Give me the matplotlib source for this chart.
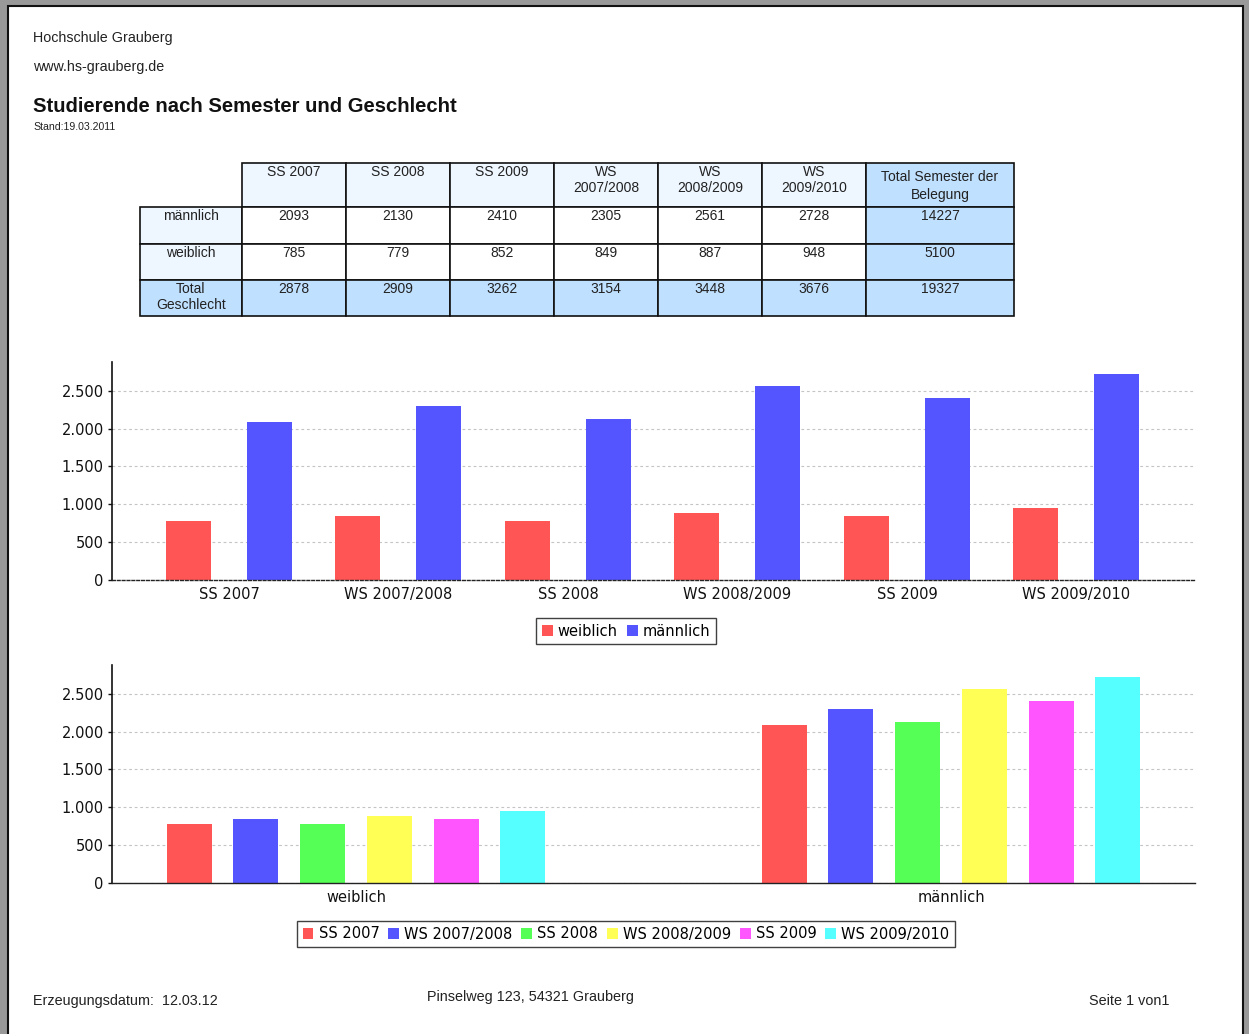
import matplotlib
matplotlib.use("Agg")
import matplotlib.pyplot as plt
from matplotlib.patches import Rectangle
from matplotlib.ticker import FuncFormatter
import numpy as np

# data
semester = ['SS 2007', 'SS 2008', 'SS 2009', 'WS 2007/2008', 'WS 2008/2009', 'WS 2009/2010']
maennlich = [2093, 2130, 2410, 2305, 2561, 2728]
weiblich = [785, 779, 852, 849, 887, 948]
chart_order = ['SS 2007', 'WS 2007/2008', 'SS 2008', 'WS 2008/2009', 'SS 2009', 'WS 2009/2010']
geschlecht = ['weiblich', 'männlich']
farben = ['#ff5555', '#5555ff', '#55ff55', '#ffff55', '#ff55ff', '#55ffff']

W, H = 1249, 1034
fig = plt.figure(figsize=(W / 100, H / 100), dpi=100)
fig.patch.set_facecolor('#999999')

def fx(x):
    return x / W

def fy(y):
    return 1 - y / H

REPORT_FONT = ['Liberation Sans', 'DejaVu Sans']
CHART_FONT = ['DejaVu Sans']

def ftext(x, y, s, **kw):
    kw.setdefault('family', REPORT_FONT)
    kw.setdefault('color', '#222222')
    fig.text(fx(x), fy(y), s, **kw)

def frect(x0, y0, x1, y1, **kw):
    r = Rectangle((fx(x0), fy(y1)), fx(x1) - fx(x0), fy(y0) - fy(y1),
                  transform=fig.transFigure, **kw)
    fig.add_artist(r)

# page
frect(8, 6, 1243, 1040, facecolor='white', edgecolor='#111111', lw=1.5, zorder=0)

# header
ftext(33, 38, 'Hochschule Grauberg', fontsize=10.3, va='center')
ftext(33, 67, 'www.hs-grauberg.de', fontsize=10.3, va='center')
ftext(33, 106, 'Studierende nach Semester und Geschlecht', fontsize=14.6, fontweight='bold',
      va='center', color='#111111')
ftext(33, 127, 'Stand:19.03.2011', fontsize=7.6, va='center')

# table
col_x = [140, 242, 346, 450, 554, 658, 762, 866, 1014]
row_y = [163, 207, 244, 280, 316]
light = '#eef6ff'
blue = '#c0e0ff'
header = ['SS 2007', 'SS 2008', 'SS 2009', 'WS\n2007/2008', 'WS\n2008/2009', 'WS\n2009/2010']
rows = [('männlich', maennlich), ('weiblich', weiblich)]
totals = [m + w for m, w in zip(maennlich, weiblich)]

def cell(ci, ri, txt, fc, center=False):
    x0, x1 = col_x[ci], col_x[ci + 1]
    y0, y1 = row_y[ri], row_y[ri + 1]
    frect(x0, y0, x1, y1, facecolor=fc, edgecolor='#111111', lw=1.2, zorder=1)
    if center:
        ftext((x0 + x1) / 2, (y0 + y1) / 2 + 1, txt, fontsize=10, ha='center', va='center',
              linespacing=1.35, zorder=2)
    else:
        ftext((x0 + x1) / 2, y0 + 2, txt, fontsize=10, ha='center', va='top',
              linespacing=1.2, zorder=2)

for i, h in enumerate(header):
    cell(i + 1, 0, h, light)
cell(7, 0, 'Total Semester der\nBelegung', blue, center=True)
for r, (name, vals) in enumerate(rows):
    cell(0, r + 1, name, light)
    for i, v in enumerate(vals):
        cell(i + 1, r + 1, str(v), 'white')
    cell(7, r + 1, str(sum(vals)), blue)
cell(0, 3, 'Total\nGeschlecht', blue)
for i, v in enumerate(totals):
    cell(i + 1, 3, str(v), blue)
cell(7, 3, str(sum(totals)), blue)

# charts
fmt = FuncFormatter(lambda v, p: f'{int(v):,}'.replace(',', '.'))

def style_axes(ax, dashed_base):
    ax.set_ylim(0, 2880)
    ax.set_yticks(np.arange(0, 2501, 500))
    ax.yaxis.set_major_formatter(fmt)
    ax.yaxis.grid(True, color='#c4c4c4', lw=0.8, linestyle=(0, (2.5, 2.5)))
    ax.set_axisbelow(True)
    for s in ['top', 'right']:
        ax.spines[s].set_visible(False)
    ax.spines['left'].set_color('#111111')
    ax.spines['left'].set_linewidth(1.2)
    ax.spines['bottom'].set_color('#222222')
    ax.spines['bottom'].set_linewidth(1.0)
    if dashed_base:
        ax.spines['bottom'].set_linestyle((0, (2, 1.5)))
    ax.tick_params(axis='y', length=3, width=1, labelsize=10.5, colors='#111111', pad=3)
    ax.tick_params(axis='x', length=0, labelsize=10.5, colors='#111111', pad=5)
    for lab in ax.get_xticklabels() + ax.get_yticklabels():
        lab.set_family(CHART_FONT)

ax1 = fig.add_axes([fx(112), fy(580), fx(1195) - fx(112), fy(362) - fy(580)])
idx = [semester.index(s) for s in chart_order]
x = np.arange(len(chart_order))
bw = 45 / 169.5
off = 40.5 / 169.5
b1 = ax1.bar(x - off, [weiblich[i] for i in idx], bw, color=farben[0], label='weiblich')
b2 = ax1.bar(x + off, [maennlich[i] for i in idx], bw, color=farben[1], label='männlich')
ax1.set_xticks(x)
ax1.set_xticklabels(chart_order)
ax1.set_xlim(-0.69, 5.70)
style_axes(ax1, True)

leg_kw = dict(loc='center', frameon=True, fancybox=False, handlelength=0.75, handleheight=0.75,
              handletextpad=0.35, columnspacing=0.6, borderpad=0.4, borderaxespad=0,
              prop={'family': CHART_FONT, 'size': 10.5})
leg1 = fig.legend(handles=[b1, b2], bbox_to_anchor=(fx(626), fy(631)), ncol=2, **leg_kw)
leg1.get_frame().set_edgecolor('#111111')
leg1.get_frame().set_linewidth(1.0)

ax2 = fig.add_axes([fx(112), fy(883), fx(1195) - fx(112), fy(665) - fy(883)])
gx = np.arange(len(geschlecht))
step = 66.7 / 595
bw2 = 45 / 595
handles = []
for k, s in enumerate(chart_order):
    i = semester.index(s)
    vals = [weiblich[i], maennlich[i]]
    b = ax2.bar(gx + (k - 2.5) * step, vals, bw2, color=farben[k], label=s)
    handles.append(b)
ax2.set_xticks(gx)
ax2.set_xticklabels(geschlecht)
ax2.set_xlim(-0.41, 1.41)
style_axes(ax2, False)

leg2 = fig.legend(handles=handles, bbox_to_anchor=(fx(626), fy(934)), ncol=6, **leg_kw)
leg2.get_frame().set_edgecolor('#111111')
leg2.get_frame().set_linewidth(1.0)

# footer
ftext(33, 1001, 'Erzeugungsdatum:  12.03.12', fontsize=10.4, va='center')
ftext(427, 997, 'Pinselweg 123, 54321 Grauberg', fontsize=10.4, va='center')
ftext(1089, 1001, 'Seite 1 von1', fontsize=10.4, va='center')

fig.savefig('out.png', dpi=100)
